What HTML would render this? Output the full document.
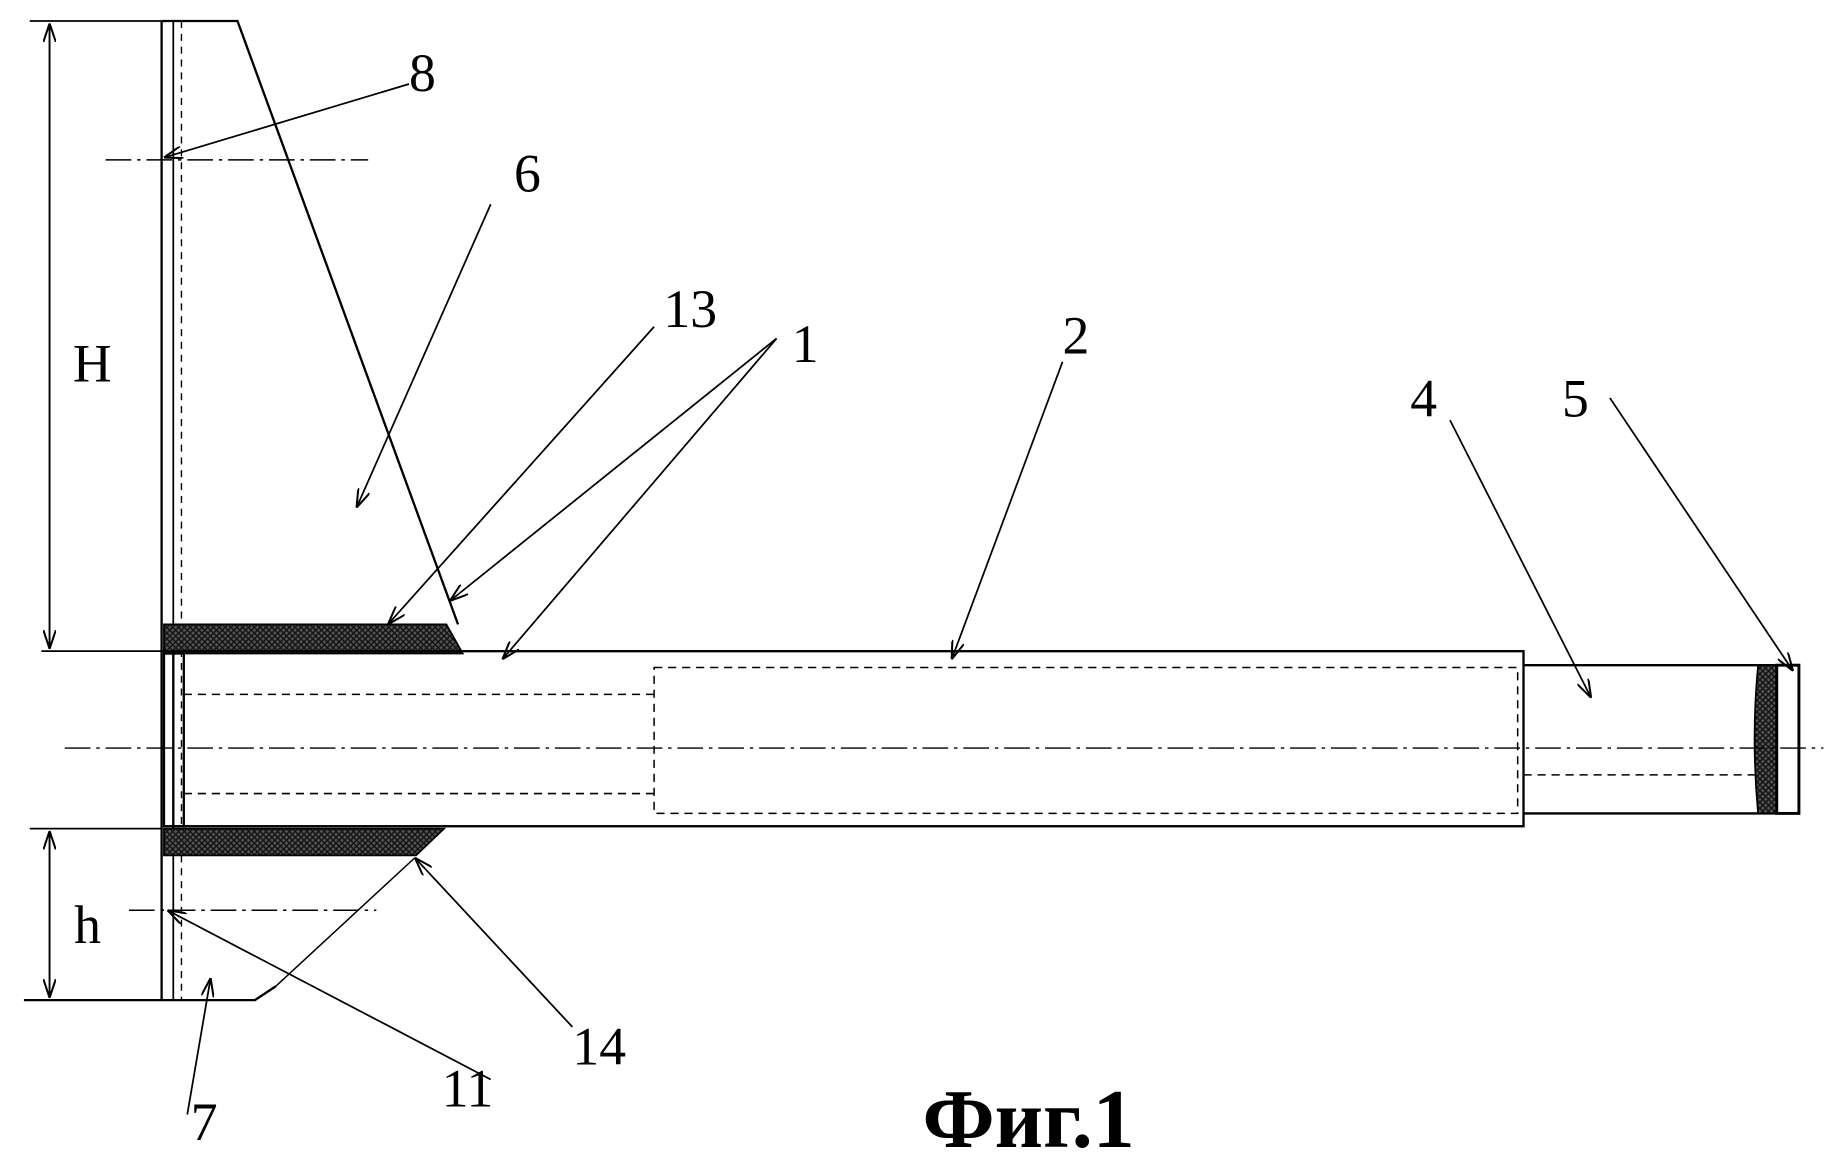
<!DOCTYPE html>
<html><head><meta charset="utf-8"><style>
html,body{margin:0;padding:0;background:#fff}
svg{display:block}
text{font-family:"Liberation Serif",serif;fill:#000}
</style></head><body>
<svg width="1831" height="1167" viewBox="0 0 1568 1000" xmlns="http://www.w3.org/2000/svg">
<defs>
<pattern id="hx" width="5" height="5" patternUnits="userSpaceOnUse">
<rect width="5" height="5" fill="#555"/>
<path d="M0 0L5 5M5 0L0 5" stroke="#111" stroke-width="1.2"/>
</pattern>
<marker id="a" viewBox="0 0 12 8" refX="12" refY="4" markerWidth="16" markerHeight="11" orient="auto" markerUnits="userSpaceOnUse">
<path d="M0 0L12 4L0 8" fill="none" stroke="#000" stroke-width="1.3"/>
</marker>
</defs>
<g stroke="#000" stroke-width="2" fill="none">
<line x1="138" y1="18" x2="138" y2="857"/>
<line x1="148" y1="18" x2="148" y2="857" stroke-width="1.5"/>
<line x1="155" y1="18" x2="155" y2="857" stroke-width="1.2" stroke-dasharray="6,5"/>
<polyline points="138,18 203,18 392,535"/>
<polyline points="20,857 218,857 236,845"/>
<line x1="236" y1="845" x2="355" y2="735" stroke-width="1.3"/>
<polygon points="140,535 382,535 396,560 140,560" fill="url(#hx)" stroke-width="1.5"/>
<polygon points="140,710 380,710 356,733 140,733" fill="url(#hx)" stroke-width="1.5"/>
<rect x="148" y="558" width="1157" height="150"/>
<rect x="140" y="560" width="17" height="148" stroke-width="2"/>
<g stroke-width="1.3" stroke-dasharray="7,5">
<line x1="157" y1="595" x2="560" y2="595"/>
<line x1="157" y1="680" x2="560" y2="680"/>
<rect x="560" y="572" width="740" height="125"/>
<line x1="1305" y1="664" x2="1503" y2="664"/>
</g>
<line x1="1305" y1="570" x2="1522" y2="570"/>
<line x1="1305" y1="697" x2="1522" y2="697"/>
<path d="M1506,570 Q1500,633 1506,697 L1522,697 L1522,570 Z" fill="url(#hx)" stroke-width="1.5"/>
<rect x="1522" y="570" width="19" height="127" fill="#fff" stroke-width="2.5"/>
<g stroke-width="1.2" stroke-dasharray="22,5,3,5">
<line x1="55" y1="641" x2="1562" y2="641"/>
<line x1="90" y1="137" x2="315" y2="137"/>
<line x1="110" y1="780" x2="322" y2="780"/>
</g>
<g stroke-width="1.5">
<line x1="25" y1="18" x2="138" y2="18"/>
<line x1="35" y1="558" x2="148" y2="558"/>
<line x1="25" y1="710" x2="138" y2="710"/>
<line x1="42" y1="20" x2="42" y2="556" marker-end="url(#a)"/>
<line x1="42" y1="556" x2="42" y2="20" marker-end="url(#a)"/>
<line x1="42" y1="712" x2="42" y2="855" marker-end="url(#a)"/>
<line x1="42" y1="855" x2="42" y2="712" marker-end="url(#a)"/>
</g>
<g stroke-width="1.5">
<line x1="350" y1="72" x2="140" y2="135" marker-end="url(#a)"/>
<line x1="420" y1="175" x2="305" y2="435" marker-end="url(#a)"/>
<line x1="560" y1="280" x2="332" y2="535" marker-end="url(#a)"/>
<line x1="665" y1="290" x2="385" y2="515" marker-end="url(#a)"/>
<line x1="665" y1="290" x2="430" y2="565" marker-end="url(#a)"/>
<line x1="910" y1="310" x2="815" y2="565" marker-end="url(#a)"/>
<line x1="1242" y1="360" x2="1363" y2="598" marker-end="url(#a)"/>
<line x1="1379" y1="341" x2="1536" y2="575" marker-end="url(#a)"/>
<line x1="490" y1="880" x2="355" y2="735" marker-end="url(#a)"/>
<line x1="420" y1="925" x2="143" y2="780" marker-end="url(#a)"/>
<line x1="160" y1="955" x2="180" y2="838" marker-end="url(#a)"/>
</g>
</g>
<g font-size="46">
<text x="62" y="327">H</text>
<text x="63" y="808">h</text>
<text x="350" y="78">8</text>
<text x="440" y="164">6</text>
<text x="568" y="280">13</text>
<text x="678" y="310">1</text>
<text x="910" y="303">2</text>
<text x="1208" y="357">4</text>
<text x="1338" y="357">5</text>
<text x="490" y="912">14</text>
<text x="378" y="948">11</text>
<text x="163" y="977">7</text>
</g>
<text x="790" y="983" font-size="72" font-weight="bold">Фиг.1</text>
</svg>
</body></html>
